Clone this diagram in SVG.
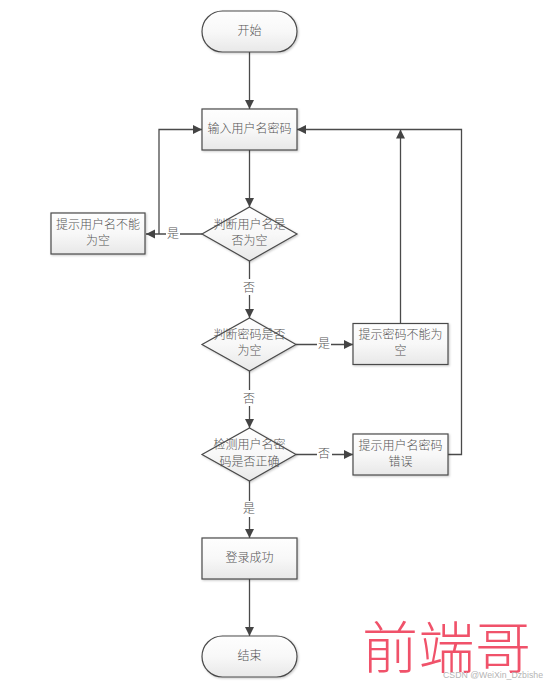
<svg xmlns="http://www.w3.org/2000/svg" width="548" height="687" viewBox="0 0 548 687">
<style>
.n{stroke:#4a4a4a;stroke-width:1.2;fill:url(#g);filter:url(#s)}
.t{font-family:"Noto Sans CJK SC","Liberation Sans",sans-serif;font-size:12px;font-weight:300;fill:#555;text-anchor:middle}
.c{fill:none;stroke:#4a4a4a;stroke-width:1.3}
.l{font-family:"Noto Sans CJK SC","Liberation Sans",sans-serif;font-size:12px;font-weight:300;fill:#555;text-anchor:middle}
.b{fill:#fff}
</style>
<defs>
<linearGradient id="g" x1="0" y1="0" x2="0" y2="1"><stop offset="0" stop-color="#fefefe"/><stop offset="0.5" stop-color="#f8f8f8"/><stop offset="1" stop-color="#e8e8e8"/></linearGradient>
<filter id="s" x="-10%" y="-10%" width="120%" height="125%"><feDropShadow dx="1" dy="1" stdDeviation="1" flood-color="#000" flood-opacity=".22"/></filter>
<marker id="a" markerUnits="userSpaceOnUse" markerWidth="10" markerHeight="10" refX="9" refY="5" orient="auto"><path d="M0 0.5L9 5L0 9.500z" fill="#444"/></marker>
</defs>
<rect width="548" height="687" fill="#fff"/>
<g id="connectors">
<path class="c" marker-end="url(#a)" d="M249.500 52V109"/>
<path class="c" marker-end="url(#a)" d="M249.500 150V207"/>
<path class="c" marker-end="url(#a)" d="M202 234H146"/>
<path class="c" marker-end="url(#a)" d="M159 234V129.500H202"/>
<path class="c" marker-end="url(#a)" d="M249.500 261V318"/>
<path class="c" marker-end="url(#a)" d="M296 344.500H353"/>
<path class="c" marker-end="url(#a)" d="M400.500 323V129.500"/>
<path class="c" marker-end="url(#a)" d="M249.500 371V428"/>
<path class="c" marker-end="url(#a)" d="M296 454.500H353"/>
<path class="c" marker-end="url(#a)" d="M448 454.500H461.500V129.500H297"/>
<path class="c" marker-end="url(#a)" d="M249.500 481V538"/>
<path class="c" marker-end="url(#a)" d="M249.500 579V636"/>
<rect class="b" x="166" y="226" width="14" height="16"/><text class="l" x="173" y="238">是</text>
<rect class="b" x="242" y="279" width="15" height="16"/><text class="l" x="249" y="292">否</text>
<rect class="b" x="317" y="336" width="14" height="16"/><text class="l" x="324" y="348">是</text>
<rect class="b" x="242" y="390" width="15" height="16"/><text class="l" x="249" y="403">否</text>
<rect class="b" x="317" y="446" width="15" height="16"/><text class="l" x="324" y="458">否</text>
<rect class="b" x="242" y="501" width="15" height="16"/><text class="l" x="249" y="513">是</text>
</g>
<g id="start"><rect class="n" x="202" y="11" width="95" height="41" rx="20.500"/><text class="t" x="249.500" y="35">开始</text></g>
<g id="input"><rect class="n" x="202" y="109" width="95" height="41"/><text class="t" x="249.500" y="133">输入用户名密码</text></g>
<g id="d1"><path class="n" d="M249.500 207L297 234L249.500 261L202 234z"/><text class="t" x="249.500" y="229">判断用户名是</text><text class="t" x="249.500" y="245">否为空</text></g>
<g id="e1"><rect class="n" x="51" y="213" width="94" height="41"/><text class="t" x="98" y="229">提示用户名不能</text><text class="t" x="98" y="245">为空</text></g>
<g id="d2"><path class="n" d="M249.500 318L296 344.500L249.500 371L202 344.500z"/><text class="t" x="249.500" y="339">判断密码是否</text><text class="t" x="249.500" y="355">为空</text></g>
<g id="e2"><rect class="n" x="353" y="323.500" width="95" height="41"/><text class="t" x="400.500" y="339">提示密码不能为</text><text class="t" x="400.500" y="355">空</text></g>
<g id="d3"><path class="n" d="M249.500 428L296 454.500L249.500 481L202 454.500z"/><text class="t" x="249.500" y="449">检测用户名密</text><text class="t" x="249.500" y="466">码是否正确</text></g>
<g id="e3"><rect class="n" x="353" y="434" width="95" height="41"/><text class="t" x="400.500" y="450">提示用户名密码</text><text class="t" x="400.500" y="466">错误</text></g>
<g id="ok"><rect class="n" x="202" y="538" width="95" height="41"/><text class="t" x="249.500" y="562">登录成功</text></g>
<g id="end"><rect class="n" x="202" y="636" width="95" height="41" rx="20.500"/><text class="t" x="249.500" y="660">结束</text></g>
<text x="362" y="668" font-family="'Noto Sans CJK SC',sans-serif" font-weight="300" font-size="56" fill="#f0526a" textLength="169">前端哥</text>
<text x="443" y="678" font-family="'Liberation Sans',sans-serif" font-size="9" fill="#b5b5b5" textLength="100" lengthAdjust="spacingAndGlyphs">CSDN @WeiXin_Dzbishe</text>
</svg>
